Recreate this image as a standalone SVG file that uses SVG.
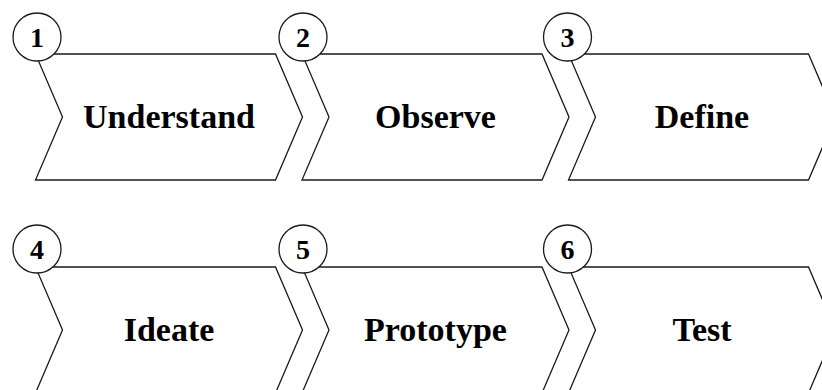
<svg xmlns="http://www.w3.org/2000/svg" xmlns:xlink="http://www.w3.org/1999/xlink" width="822" height="390" viewBox="0 0 822 390">
  <style>
    .shape { fill: #ffffff; stroke: #1a1a1a; stroke-width: 1.3; stroke-linejoin: miter; }
    .badge { fill: #ffffff; stroke: #1a1a1a; stroke-width: 1.3; }
    .label { font-family: "Liberation Serif", "Times New Roman", serif; font-weight: bold; font-size: 34px; fill: #000; text-anchor: middle; }
    .num { font-family: "Liberation Serif", "Times New Roman", serif; font-weight: bold; font-size: 28px; fill: #000; text-anchor: middle; }
  </style>
  <defs>
    <!-- chevron step, origin at its top-left corner -->
    <path id="chev" d="M0,0 L240,0 L267,63 L240,126 L0,126 L27,63 Z"/>
  </defs>
  <rect width="822" height="390" fill="#ffffff"/>

  <g id="step1" transform="translate(35.5,54)">
    <use xlink:href="#chev" class="shape"/>
    <circle class="badge" cx="1.5" cy="-17" r="24"/>
    <text class="num" x="1.5" y="-7.5">1</text>
    <text class="label" x="133.5" y="74">Understand</text>
  </g>

  <g id="step2" transform="translate(302,54)">
    <use xlink:href="#chev" class="shape"/>
    <circle class="badge" cx="1" cy="-17" r="24"/>
    <text class="num" x="1" y="-7.5">2</text>
    <text class="label" x="133.5" y="74">Observe</text>
  </g>

  <g id="step3" transform="translate(568.5,54)">
    <use xlink:href="#chev" class="shape"/>
    <circle class="badge" cx="-1" cy="-17" r="24"/>
    <text class="num" x="-1" y="-7.5">3</text>
    <text class="label" x="133.5" y="74">Define</text>
  </g>

  <g id="step4" transform="translate(35.5,267)">
    <use xlink:href="#chev" class="shape"/>
    <circle class="badge" cx="1.5" cy="-18" r="24"/>
    <text class="num" x="1.5" y="-8.5">4</text>
    <text class="label" x="133.5" y="74">Ideate</text>
  </g>

  <g id="step5" transform="translate(302,267)">
    <use xlink:href="#chev" class="shape"/>
    <circle class="badge" cx="1" cy="-18" r="24"/>
    <text class="num" x="1" y="-8.5">5</text>
    <text class="label" x="133.5" y="74">Prototype</text>
  </g>

  <g id="step6" transform="translate(568.5,267)">
    <use xlink:href="#chev" class="shape"/>
    <circle class="badge" cx="-1" cy="-18" r="24"/>
    <text class="num" x="-1" y="-8.5">6</text>
    <text class="label" x="133.5" y="74">Test</text>
  </g>

  <g id="connectors"/>
</svg>
